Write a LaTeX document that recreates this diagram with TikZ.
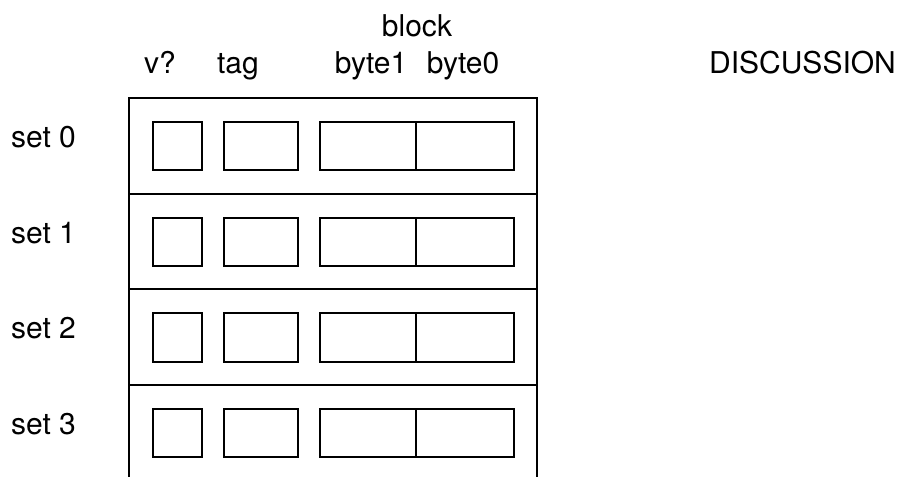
\documentclass[tikz,border=0pt]{standalone}
\usepackage{fontspec}
\setmainfont{TeX Gyre Heros}
\begin{document}
\begin{tikzpicture}[x=1pt,y=-1pt,
  lbl/.style={inner sep=0pt,anchor=base,font=\fontsize{30}{36}\selectfont},
  frame/.style={line width=2pt,line join=miter},
  cell/.style={line width=2pt}]
\useasboundingbox (0,0) rectangle (909,476);
% header labels
\node[lbl] (block) at (417,37) {block};
\node[lbl] (hv) at (160,74) {v?};
\node[lbl] (htag) at (238,74) {tag};
\node[lbl] (hb1) at (371,74) {byte1};
\node[lbl] (hb0) at (463,74) {byte0};
\node[lbl] (disc) at (802.5,74) {DISCUSSION};
% outer frame (open at bottom)
\draw[frame] (129,480) -- (129,98) -- (537,98) -- (537,480);
\foreach \y in {193.5,289,384.5} \draw[frame] (129,\y) -- (537,\y);
% rows
\foreach \i/\t in {0/set 0,1/set 1,2/set 2,3/set 3}{
  \pgfmathsetmacro{\off}{\i*95.8}
  \node[lbl,anchor=base west] (s\i) at (11,147.3+\off) {\t};
  \draw[cell] (152.7,121.7+\off) rectangle (201.7,170+\off);
  \draw[cell] (224.3,121.7+\off) rectangle (297.7,170+\off);
  \draw[cell] (320.3,121.7+\off) rectangle (415.7,170+\off);
  \draw[cell] (415.7,121.7+\off) rectangle (513.7,170+\off);
}
\end{tikzpicture}
\end{document}
